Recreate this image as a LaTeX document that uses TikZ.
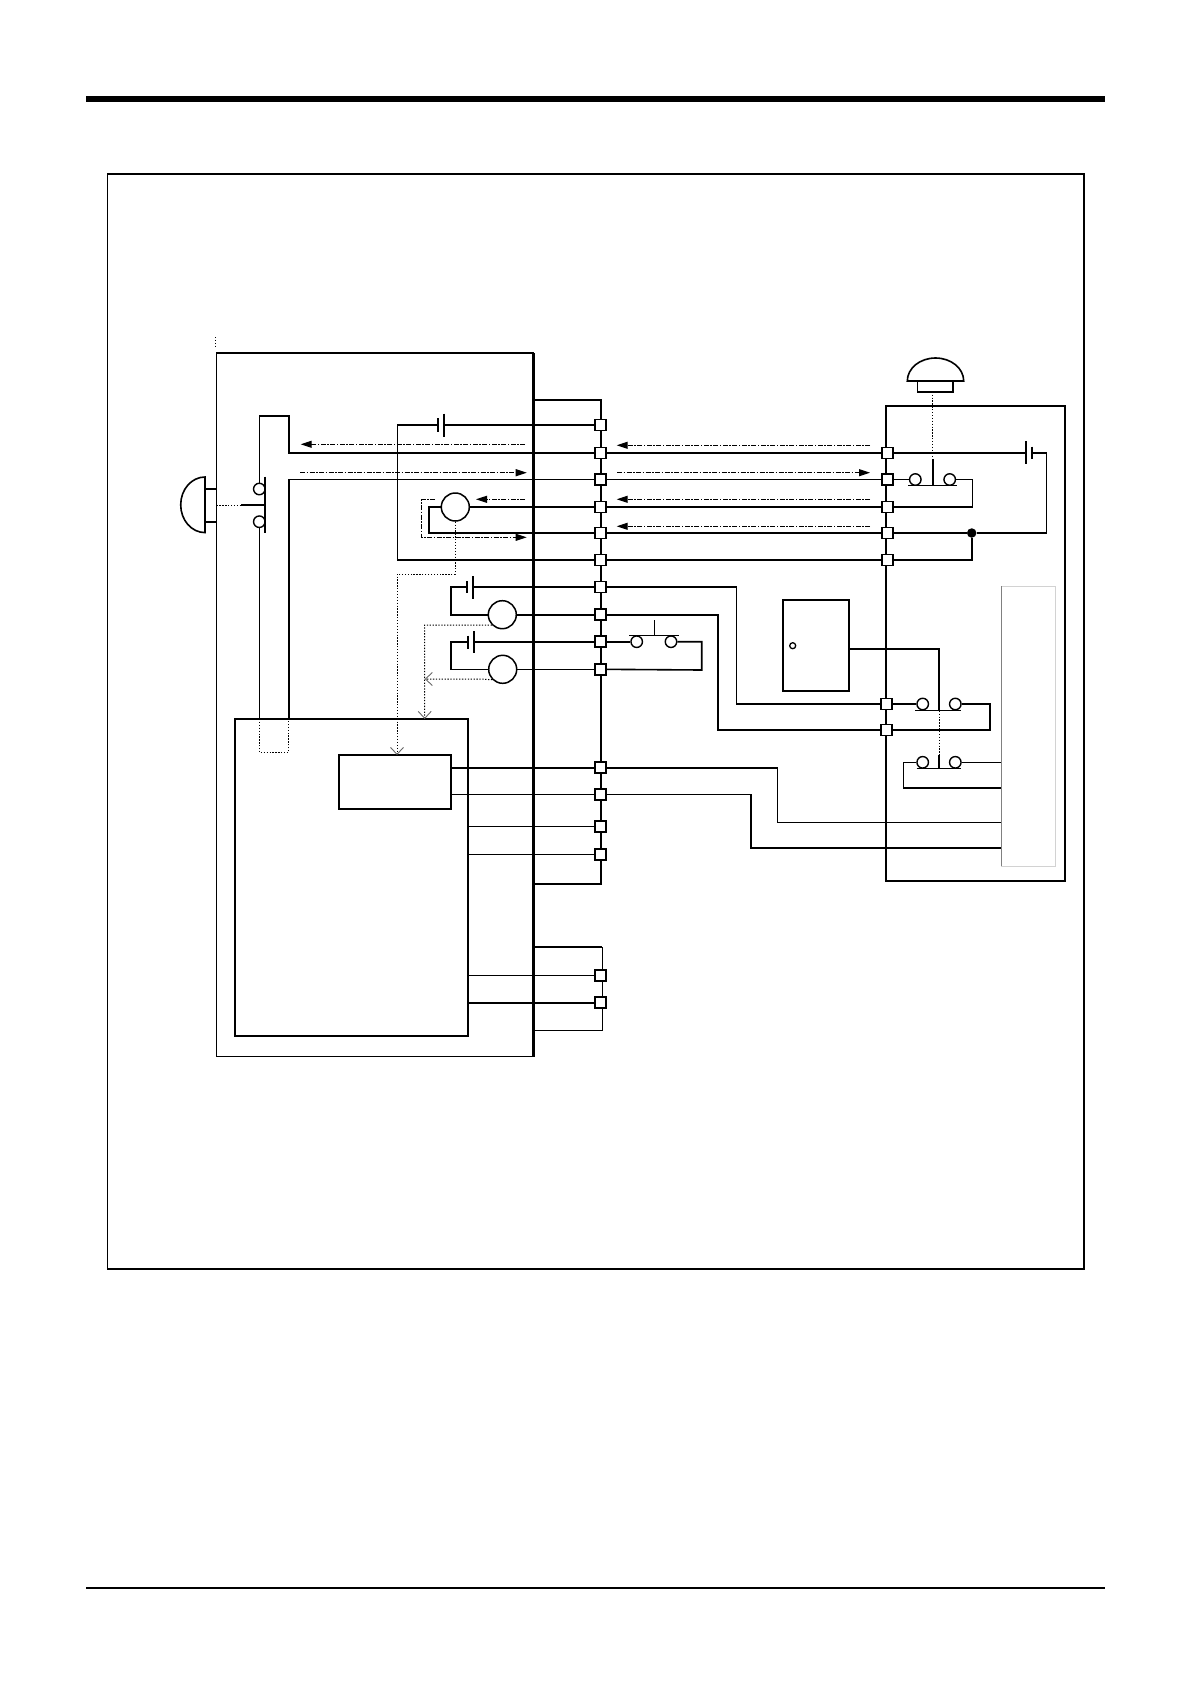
\documentclass[tikz,border=0pt]{standalone}
\usepackage{tikz}
\usetikzlibrary{arrows.meta}
\tikzset{
  wire/.style={line width=1.6pt},
  thinwire/.style={line width=1.3pt},
  thickwire/.style={line width=2.2pt},
  boxnode/.style={draw,line width=1.7pt,anchor=north west,inner sep=0pt,outer sep=0pt},
  terminal/.style={draw,fill=white,line width=1.5pt,minimum size=11pt,inner sep=0pt},
  contact/.style={draw,circle,fill=white,line width=1.4pt,minimum size=11.5pt,inner sep=0pt},
  lamp/.style={draw,circle,fill=white,line width=1.5pt,minimum size=28pt,inner sep=0pt},
  linkdot/.style={line width=1pt,dash pattern=on 1.3pt off 1.6pt},
  flowarrow/.style={line width=1pt,dash pattern=on 5pt off 1.5pt on 1.5pt off 1.5pt,-{Triangle[length=11pt,width=7pt]}},
  openarrow/.style={linkdot,-{Straight Barb[length=7pt,width=13pt,line width=.9pt,color=gray!80!black]}}
}
\begin{document}
\begin{tikzpicture}[x=1pt,y=-1pt]
  \useasboundingbox (0,0) rectangle (1190,1684);
  % page rules and outer frame
  \fill (86,95.5) rectangle (1105,102);
  \draw [line width=1.8pt] (86,1588) -- (1105,1588);
  \node [boxnode,minimum width=976.5pt,minimum height=1094.7pt] (frame) at (107.5,174) {};
  % controller panel
  \node [boxnode,minimum width=317pt,minimum height=703.5pt] (panel) at (216.5,353) {};
  \node [boxnode,minimum width=232.7pt,minimum height=317pt] (unit) at (235,719) {};
  \node [boxnode,minimum width=112pt,minimum height=54pt] (module) at (339,755) {};
  % robot side box
  \node [boxnode,minimum width=178.7pt,minimum height=475.5pt] (robot) at (886,405.7) {};
  \node [boxnode,draw=gray!35,line width=1pt,minimum width=54pt,minimum height=280pt] (relay) at (1001.3,586) {};
  \draw [gray,line width=1pt] (relay.north west) -- (relay.south west);
  % door
  \node [boxnode,minimum width=66pt,minimum height=91.3pt] (door) at (782.7,600) {};
  \draw [line width=1.3pt] (792.7,645.7) circle [radius=3pt];
  % bus brackets
  \coordinate (busa) at (533.3,400);
  \coordinate (busb) at (600.7,400);
  \coordinate (busc) at (600.7,883.7);
  \coordinate (busd) at (533.3,883.7);
  \draw [thickwire] (busa) -- (busb) -- (busc) -- (busd);
  \coordinate (buse) at (533.3,947);
  \coordinate (busf) at (602.3,947);
  \coordinate (busg) at (602.3,1030.3);
  \coordinate (bush) at (533.3,1030.3);
  \draw [thickwire] (buse) -- (busf);
  \draw [wire] (busf) -- (busg) -- (bush);
  \draw [thickwire] (panel.north east) -- (panel.south east);
  % terminals on the panel
  \node [terminal] (ta) at (600.7,425) {};
  \node [terminal] (tb) at (600.7,453) {};
  \node [terminal] (tc) at (600.7,479.5) {};
  \node [terminal] (td) at (600.7,507) {};
  \node [terminal] (te) at (600.7,533) {};
  \node [terminal] (tf) at (600.7,560) {};
  \node [terminal] (tg) at (600.7,587) {};
  \node [terminal] (th) at (600.7,614.7) {};
  \node [terminal] (ti) at (600.7,641.7) {};
  \node [terminal] (tj) at (600.7,669.3) {};
  \node [terminal] (tk) at (600.7,767.7) {};
  \node [terminal] (tl) at (600.7,794.3) {};
  \node [terminal] (tm) at (600.7,826.3) {};
  \node [terminal] (tn) at (600.7,854.3) {};
  \node [terminal] (to) at (600.7,975.3) {};
  \node [terminal] (tp) at (600.7,1002.7) {};
  % terminals on the robot side
  \node [terminal] (ra) at (887.7,453) {};
  \node [terminal] (rb) at (887.7,479.5) {};
  \node [terminal] (rc) at (887.7,507) {};
  \node [terminal] (rd) at (887.7,533) {};
  \node [terminal] (re) at (887.7,560) {};
  \node [terminal] (rf) at (886.3,704) {};
  \node [terminal] (rg) at (886.3,730) {};
  % emergency stop on the panel
  \draw [wire] (205,477) arc [start angle=90,end angle=270,x radius=24.3pt,y radius=27.8pt] -- cycle;
  \draw [wire] (205,489) rectangle (216.5,521.7);
  \node [contact] (stopa) at (259.3,489) {};
  \node [contact] (stopb) at (259.3,521.7) {};
  \draw [wire] (265,476.7) -- (265,532.7);
  \draw [wire] (241,505) -- (265,505);
  \coordinate (stopp) at (216.5,505);
  \coordinate (stopq) at (241,505);
  \draw [linkdot] (stopp) -- (stopq);
  \coordinate (stopr) at (259.3,415.7);
  \coordinate (stops) at (288.7,453);
  \draw [wire] (stopa) -- (stopr) -| (stops) -- (tb);
  \coordinate (stopt) at (288.7,479.5);
  \draw [wire] (stopb) -- (stopb |- unit.north);
  \draw [wire] (stopt |- unit.north) -- (stopt) -- (tc);
  % dotted part inside the unit
  \draw [linkdot] (stopb |- unit.north) -- (259.3,752.3) -- (288.7,752.3) -- (stopt |- unit.north);
  % battery and lamp, first group
  \coordinate (bata) at (443.7,425);
  \coordinate (batb) at (437.7,425);
  \draw [wire] (443.7,413.7) -- (443.7,436.7);
  \draw [wire] (437.7,418) -- (437.7,431.7);
  \coordinate (batc) at (397.3,425);
  \draw [wire] (ta) -- (bata);
  \draw [wire] (batb) -- (batc) |- (tf);
  \node [lamp] (lampa) at (455.3,507) {};
  \coordinate (lampp) at (428.7,507);
  \draw [wire] (lampa) -- (td);
  \draw [wire] (lampa) -- (lampp) |- (te);
  % battery and lamp, second group
  \coordinate (batd) at (472.7,587);
  \coordinate (bate) at (466.7,587);
  \draw [wire] (472.7,576) -- (472.7,598.7);
  \draw [wire] (466.7,581) -- (466.7,593.3);
  \coordinate (batf) at (450.7,587);
  \node [lamp] (lampb) at (502.3,614.7) {};
  \draw [wire] (tg) -- (batd);
  \draw [wire] (bate) -- (batf) |- (lampb);
  \draw [wire] (lampb) -- (th);
  % battery and lamp, third group
  \coordinate (batg) at (473.7,641.7);
  \coordinate (bath) at (467.7,641.7);
  \draw [wire] (473.7,631) -- (473.7,653.3);
  \draw [wire] (467.7,635.7) -- (467.7,649);
  \coordinate (bati) at (450.7,641.7);
  \node [lamp] (lampc) at (502.7,669.3) {};
  \draw [wire] (ti) -- (batg);
  \draw [wire] (bath) -- (bati) |- (lampc);
  \draw [wire] (lampc) -- (tj);
  % dotted links to the unit
  \coordinate (linka) at (397,574);
  \coordinate (linkb) at (424.7,625);
  \coordinate (linkc) at (424.7,679);
  \draw [openarrow] (lampa.south) -- (lampa.south |- linka) -- (linka) -- (module.north -| linka);
  \draw [openarrow] (lampb.south west) -- (480,625) -- (linkb) -- (linkb |- unit.north);
  \draw [openarrow] (lampc.south west) -- (480,679) -- (linkc);
  % door switch and panel switch
  \node [contact] (swa) at (636.7,641.7) {};
  \node [contact] (swb) at (671,641.7) {};
  \draw [thinwire] (629,635.7) -- (678.7,635.7);
  \draw [thinwire] (654.7,620) -- (654.7,635.7);
  \coordinate (swc) at (701.7,670);
  \draw [wire] (ti) -- (swa);
  \draw [wire] (swb) -| (swc) -- (tj);
  % wires across to the robot side
  \draw [wire] (tb) -- (ra);
  \draw [wire] (tc) -- (rb);
  \draw [wire] (td) -- (rc);
  \draw [wire] (te) -- (rd);
  \draw [wire] (tf) -- (re);
  \coordinate (wira) at (736.3,587);
  \coordinate (wirb) at (718,614.7);
  \draw [wire] (tg) -- (wira) |- (rf);
  \draw [wire] (th) -- (wirb) |- (rg);
  \coordinate (wirc) at (777.3,767.7);
  \coordinate (wird) at (750.7,794.3);
  \draw [wire] (tk) -- (wirc) |- (relay.west |- 0,822.3);
  \draw [wire] (tl) -- (wird) |- (relay.west |- 0,847.7);
  % wires from the unit
  \draw [wire] (module.east |- tk) -- (tk);
  \draw [wire] (module.east |- tl) -- (tl);
  \draw [wire] (unit.east |- tm) -- (tm);
  \draw [wire] (unit.east |- tn) -- (tn);
  \draw [wire] (unit.east |- to) -- (to);
  \draw [wire] (unit.east |- tp) -- (tp);
  % emergency stop on the robot side
  \draw [wire] (907.3,381) arc [start angle=180,end angle=0,x radius=28.2pt,y radius=23pt] -- cycle;
  \draw [wire] (917.3,381) rectangle (953,391.7);
  \coordinate (stoptop) at (932.3,391.7);
  \coordinate (stopbar) at (932.3,456.7);
  \draw [linkdot] (stoptop) -- (stopbar);
  \node [contact] (reca) at (915.3,479.5) {};
  \node [contact] (recb) at (949.7,479.5) {};
  \draw [thinwire] (908,485.3) -- (956.7,485.3);
  \draw [thinwire] (933,459.3) -- (933,485.3);
  \coordinate (recc) at (972.3,507);
  \draw [wire] (rb) -- (reca);
  \draw [wire] (recb) -| (recc) -- (rc);
  % robot side battery
  \draw [wire] (1025.7,441) -- (1025.7,464);
  \draw [wire] (1032,446.7) -- (1032,458.7);
  \coordinate (rbata) at (1025.7,453);
  \coordinate (rbatb) at (1032,453);
  \coordinate (rbatc) at (1046.3,533);
  \node [circle,fill=black,minimum size=9.5pt,inner sep=0pt] (dot) at (971.7,533) {};
  \draw [wire] (ra) -- (rbata);
  \draw [wire] (rbatb) -| (rbatc) -- (dot);
  \draw [wire] (dot) -- (rd);
  \coordinate (dotb) at (971.7,560);
  \draw [wire] (dot) -- (dotb) -- (re);
  % door contacts
  \coordinate (doorpin) at (door.east |- 0,649);
  \coordinate (gang) at (939,710.7);
  \coordinate (gangb) at (939,755);
  \coordinate (gangc) at (939,768.7);
  \draw [thinwire] (doorpin) -| (gang);
  \draw [linkdot] (gang) -- (gangb);
  \draw [thinwire] (gangb) -- (gangc);
  \node [contact] (cona) at (922.7,704) {};
  \node [contact] (conb) at (955.3,704) {};
  \draw [thinwire] (915,710.7) -- (961.3,710.7);
  \coordinate (conc) at (989.7,730);
  \draw [wire] (rf) -- (cona);
  \draw [wire] (conb) -| (conc) -- (rg);
  \node [contact] (cond) at (922.7,762.3) {};
  \node [contact] (cone) at (955.3,762.3) {};
  \draw [thinwire] (916.7,768.7) -- (961.3,768.7);
  \coordinate (conf) at (903.3,788);
  \draw [wire] (cone) -- (relay.west |- cone);
  \draw [wire] (cond) -| (conf) -- (relay.west |- conf);
  % signal flow
  \coordinate (fla) at (525,444.3);
  \coordinate (flb) at (300.7,444.3);
  \draw [flowarrow] (fla) -- (flb);
  \coordinate (flc) at (300,472.7);
  \coordinate (fld) at (526.7,472.7);
  \draw [flowarrow] (flc) -- (fld);
  \coordinate (fle) at (525,499.3);
  \coordinate (flf) at (476,499.3);
  \draw [flowarrow] (fle) -- (flf);
  \coordinate (flg) at (435,499.3);
  \coordinate (flh) at (421.7,537.3);
  \coordinate (fli) at (526.7,537.3);
  \draw [flowarrow] (flg) -| (flh) -- (fli);
  \coordinate (rfa) at (870,445.3);
  \coordinate (rfb) at (616.7,445.3);
  \draw [flowarrow] (rfa) -- (rfb);
  \coordinate (rfc) at (617,472.7);
  \coordinate (rfd) at (870,472.7);
  \draw [flowarrow] (rfc) -- (rfd);
  \coordinate (rfe) at (870,499.3);
  \coordinate (rff) at (616.7,499.3);
  \draw [flowarrow] (rfe) -- (rff);
  \coordinate (rfg) at (870,526.3);
  \coordinate (rfh) at (616.7,526.3);
  \draw [flowarrow] (rfg) -- (rfh);
  % small mark above the panel
  \draw [linkdot] (215.5,337) -- (215.5,346);
\end{tikzpicture}
\end{document}
